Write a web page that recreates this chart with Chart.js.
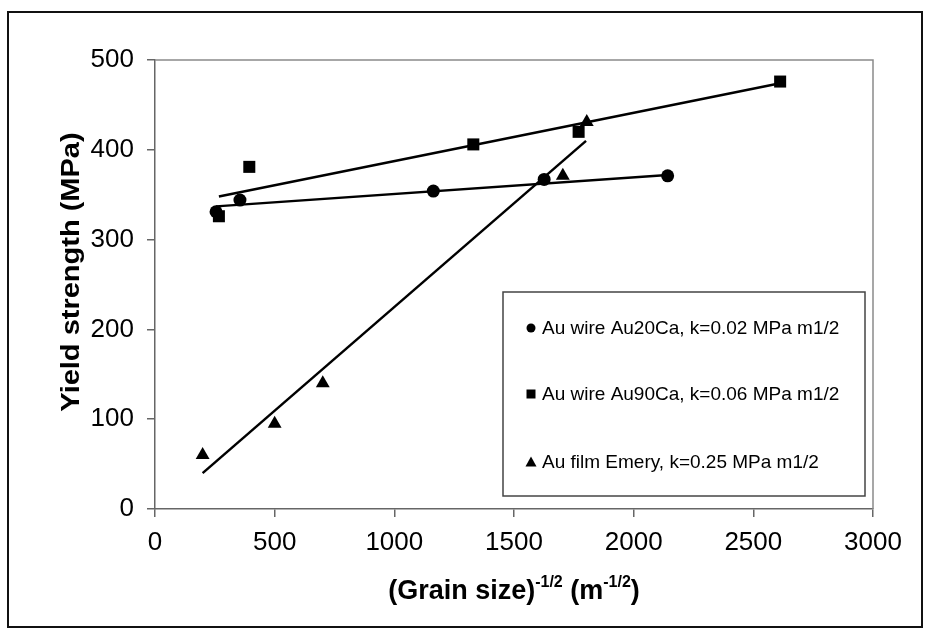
<!DOCTYPE html>
<html lang="en">
<head>
<meta charset="UTF-8">
<title>Yield strength vs grain size</title>
<style>
  html, body { margin: 0; padding: 0; background: #fff; }
</style>
</head>
<body>
<canvas id="myChart" width="929" height="630"></canvas>

<script src="https://cdn.jsdelivr.net/npm/chart.js"></script>
<script>
    const au20X = [255, 355, 1163, 1626, 2142];
    const au20Y = [331, 344, 354, 367, 371];
    const au90X = [267, 394, 1330, 1770, 2612];
    const au90Y = [326, 381, 406, 420, 476];
    const filmX = [199, 500, 701, 1704, 1804];
    const filmY = [60, 95, 140, 371, 431];

    // trend line end points (x, y) as drawn in the picture
    const au20FitX = [255, 2142];
    const au20FitY = [337, 372];
    const au90FitX = [267, 2612];
    const au90FitY = [348, 474];
    const filmFitX = [199, 1801];
    const filmFitY = [40, 410];

    const seriesLabels = [
        'Au wire Au20Ca, k=0.02 MPa m1/2',
        'Au wire Au90Ca, k=0.06 MPa m1/2',
        'Au film Emery, k=0.25 MPa m1/2'
    ];
    const markerStyles = ['circle', 'rect', 'triangle'];
    const xTicks = [0, 500, 1000, 1500, 2000, 2500, 3000];
    const yTicks = [0, 100, 200, 300, 400, 500];

    const FONT = "'Liberation Sans', Arial, sans-serif";

    function pts(xs, ys) {
        return xs.map((x, i) => ({x: x, y: ys[i]}));
    }

    function markerSet(label, xs, ys, style, radius) {
        return {
            label: label,
            data: pts(xs, ys),
            showLine: false,
            pointStyle: style,
            pointRadius: radius,
            pointHoverRadius: radius,
            pointBackgroundColor: '#000',
            pointBorderColor: '#000',
            pointBorderWidth: 0
        };
    }

    function fitSet(xs, ys) {
        return {
            label: '',
            data: pts(xs, ys),
            showLine: true,
            pointRadius: 0,
            borderColor: '#000',
            borderWidth: 2.5,
            fill: false
        };
    }

    function drawMarker(ctx, style, x, y) {
        ctx.fillStyle = '#000';
        ctx.beginPath();
        if (style === 'circle') {
            ctx.arc(x, y, 4.5, 0, Math.PI * 2);
        } else if (style === 'rect') {
            ctx.rect(x - 4.5, y - 4.5, 9, 9);
        } else {
            ctx.moveTo(x, y - 5.5);
            ctx.lineTo(x + 5.5, y + 4.5);
            ctx.lineTo(x - 5.5, y + 4.5);
            ctx.closePath();
        }
        ctx.fill();
    }

    const decor = {
        id: 'decor',
        beforeDraw(chart) {
            const ctx = chart.ctx;
            ctx.save();
            ctx.fillStyle = '#fff';
            ctx.fillRect(0, 0, chart.width, chart.height);
            ctx.restore();
        },
        beforeDatasetsDraw(chart) {
            const ctx = chart.ctx;
            const a = chart.chartArea;
            ctx.save();
            ctx.strokeStyle = '#8a8a8a';
            ctx.lineWidth = 1.5;
            ctx.beginPath();
            ctx.moveTo(a.left, a.top);
            ctx.lineTo(a.right, a.top);
            ctx.lineTo(a.right, a.bottom);
            ctx.stroke();
            ctx.restore();
        },
        afterDraw(chart) {
            const ctx = chart.ctx;
            const a = chart.chartArea;
            ctx.save();

            // outer frame
            ctx.strokeStyle = '#111';
            ctx.lineWidth = 2;
            ctx.strokeRect(8, 12, 914, 615);

            // y title (text squeezed across its height like the scan)
            ctx.fillStyle = '#000';
            ctx.font = 'bold 29px ' + FONT;
            ctx.textAlign = 'center';
            ctx.textBaseline = 'middle';
            ctx.translate(72, 272);
            ctx.rotate(-Math.PI / 2);
            ctx.scale(1, 0.88);
            ctx.fillText('Yield strength (MPa)', 0, 0);
            ctx.setTransform(1, 0, 0, 1, 0, 0);

            // x title with superscripts
            const parts = [
                {t: '(Grain size)', sup: false},
                {t: '-1/2', sup: true},
                {t: ' (m', sup: false},
                {t: '-1/2', sup: true},
                {t: ')', sup: false}
            ];
            const bigFont = 'bold 27px ' + FONT;
            const supFont = 'bold 16px ' + FONT;
            let total = 0;
            parts.forEach(p => {
                ctx.font = p.sup ? supFont : bigFont;
                p.w = ctx.measureText(p.t).width;
                total += p.w;
            });
            let x = (a.left + a.right) / 2 - total / 2;
            const base = 599;
            ctx.textAlign = 'left';
            ctx.textBaseline = 'alphabetic';
            parts.forEach(p => {
                ctx.font = p.sup ? supFont : bigFont;
                ctx.fillText(p.t, x, p.sup ? base - 12 : base);
                x += p.w;
            });

            // legend box
            ctx.strokeStyle = '#444';
            ctx.lineWidth = 1.5;
            ctx.fillStyle = '#fff';
            ctx.fillRect(503, 292, 362, 204);
            ctx.strokeRect(503, 292, 362, 204);
            const rowsY = [328, 394, 462];
            ctx.font = '19px ' + FONT;
            ctx.textBaseline = 'middle';
            seriesLabels.forEach((lab, i) => {
                drawMarker(ctx, markerStyles[i], 531, rowsY[i]);
                ctx.fillStyle = '#000';
                ctx.fillText(lab, 542, rowsY[i] + 1);
            });
            ctx.restore();
        }
    };

    const ctx = document.getElementById('myChart');

    new Chart(ctx, {
        type: 'scatter',
        data: {
            datasets: [
                fitSet(au20FitX, au20FitY),
                fitSet(au90FitX, au90FitY),
                fitSet(filmFitX, filmFitY),
                markerSet(seriesLabels[0], au20X, au20Y, 'circle', 6.5),
                markerSet(seriesLabels[1], au90X, au90Y, 'rect', 8.5),
                markerSet(seriesLabels[2], filmX, filmY, 'triangle', 8)
            ]
        },
        options: {
            responsive: false,
            devicePixelRatio: 1,
            animation: false,
            layout: {
                padding: {top: 60, right: 56, left: 0, bottom: 0}
            },
            plugins: {
                legend: {display: false},
                tooltip: {enabled: false}
            },
            scales: {
                x: {
                    type: 'linear',
                    min: xTicks[0],
                    max: xTicks[xTicks.length - 1],
                    afterBuildTicks: s => { s.ticks = xTicks.map(v => ({value: v})); },
                    afterFit: s => { s.height = 121; },
                    grid: {
                        drawOnChartArea: false,
                        drawTicks: true,
                        tickLength: 8,
                        color: '#666',
                        lineWidth: 1.5
                    },
                    border: {color: '#666', width: 1.5},
                    ticks: {
                        color: '#000',
                        padding: 10,
                        maxRotation: 0,
                        callback: v => String(v),
                        font: {family: FONT, size: 26}
                    }
                },
                y: {
                    type: 'linear',
                    min: yTicks[0],
                    max: yTicks[yTicks.length - 1],
                    afterBuildTicks: s => { s.ticks = yTicks.map(v => ({value: v})); },
                    afterFit: s => { s.width = 155; },
                    grid: {
                        drawOnChartArea: false,
                        drawTicks: true,
                        tickLength: 8,
                        color: '#666',
                        lineWidth: 1.5
                    },
                    border: {color: '#666', width: 1.5},
                    ticks: {
                        color: '#000',
                        padding: 13,
                        callback: v => String(v),
                        font: {family: FONT, size: 26}
                    }
                }
            }
        },
        plugins: [decor]
    });
</script>
</body>
</html>
